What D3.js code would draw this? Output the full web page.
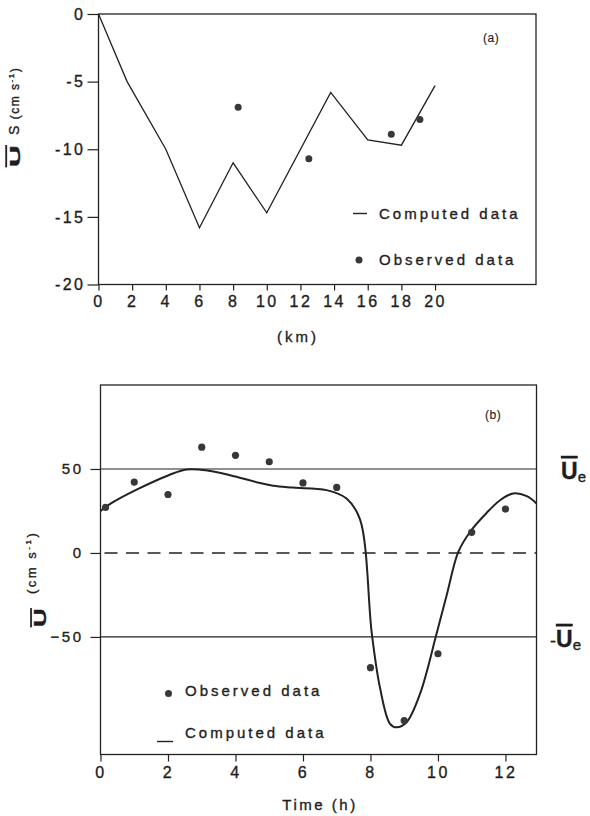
<!DOCTYPE html>
<html>
<head>
<meta charset="utf-8">
<script src="https://cdn.jsdelivr.net/npm/d3@7"></script>
<style>
  body { margin: 0; background: #fff; }
  text { font-family: "Liberation Sans", Arial, sans-serif; fill: #1e1e1e; stroke: #1e1e1e; stroke-width: 0.35px; }
</style>
</head>
<body>
<svg id="chart" width="590" height="816"></svg>
<script>
// ---- panel (a): residual current along the estuary
const distKm = [0, 1.7, 4, 6, 8, 10, 13.8, 16, 18, 20];
const computedUs = [0, -5, -10, -15.8, -11, -14.7, -5.8, -9.3, -9.7, -5.3];
const obsKm = [8.3, 12.5, 17.4, 19.1];
const observedUs = [-6.9, -10.7, -8.9, -7.8];
const kmTicks = [0, 2, 4, 6, 8, 10, 12, 14, 16, 18, 20];
const usTicks = [0, -5, -10, -15, -20];

// ---- panel (b): mean velocity over a tidal cycle
const timeH = [0, 0.31, 1.04, 2.02, 2.55, 3.2, 3.84, 4.73, 5.12, 5.71, 6.7, 7.29, 7.69, 8.04, 8.28, 8.58, 8.78, 9.07, 9.47, 9.96, 10.26, 10.6, 10.95, 11.44, 11.84, 12.23, 12.63, 12.92];
const computedU = [25, 29.5, 37.4, 46.3, 49.7, 49, 46.3, 41.6, 40, 38.9, 37.4, 32.4, 20, -48, -80, -101.7, -103.8, -100.8, -83.8, -48, -25, 0.5, 12.5, 23.8, 31.4, 35.4, 33.8, 29.5];
const obsTime = [0.15, 1, 2, 3, 4, 5, 6, 7, 8, 9, 10, 11, 12];
const observedU = [27.1, 42.2, 34.8, 63, 58.1, 54.3, 41.7, 39, -68.3, -99.8, -60, 12.3, 26.1];
const timeTicks = [0, 2, 4, 6, 8, 10, 12];
const uTicks = [50, 0, -50];
const uE = 50;

const svg = d3.select("#chart");
const ink = "#222";

function styleAxis(g, fontSize)
{
    g.select(".domain").remove();
    g.selectAll(".tick line").attr("stroke", ink).attr("stroke-width", 1.2);
    g.selectAll(".tick text")
        .attr("fill", "#1e1e1e")
        .style("font-size", fontSize + "px")
        .style("letter-spacing", "2.5px")
        .style("font-family", "'Liberation Sans', Arial, sans-serif");
}

// ================= panel (a)
let xA = d3.scaleLinear().domain([0, 26]).range([98.5, 536]);
let yA = d3.scaleLinear().domain([-20, 0]).range([284.5, 14]);

let gA = svg.append("g");

gA.append("rect")
    .attr("x", xA(0)).attr("y", yA(0))
    .attr("width", xA(26) - xA(0)).attr("height", yA(-20) - yA(0))
    .attr("fill", "none").attr("stroke", ink).attr("stroke-width", 1.3);

gA.append("g")
    .attr("transform", "translate(" + xA(0) + ",0)")
    .call(d3.axisLeft(yA).tickValues(usTicks).tickSize(11).tickPadding(2).tickFormat(d => String(d)))
    .call(g => styleAxis(g, 16));

gA.append("g")
    .attr("transform", "translate(0," + yA(-20) + ")")
    .call(d3.axisBottom(xA).tickValues(kmTicks).tickSize(6).tickPadding(5))
    .call(g => styleAxis(g, 16));

let pointsA = distKm.map((d, i) => ({ x: d, y: computedUs[i] }));
gA.append("path")
    .datum(pointsA)
    .attr("fill", "none").attr("stroke", ink).attr("stroke-width", 1.3)
    .attr("d", d3.line().x(d => xA(d.x)).y(d => yA(d.y)));

gA.selectAll("circle")
    .data(obsKm.map((d, i) => ({ x: d, y: observedUs[i] })))
    .enter().append("circle")
    .attr("r", 3.5)
    .attr("fill", "#383838")
    .attr("cx", d => xA(d.x))
    .attr("cy", d => yA(d.y));

// legend (a)
gA.append("line").attr("x1", 353).attr("x2", 367).attr("y1", 213.5).attr("y2", 213.5)
    .attr("stroke", ink).attr("stroke-width", 1.4);
gA.append("text").attr("x", 379).attr("y", 219).style("font-size", "15px").style("letter-spacing", "3px")
    .text("Computed data");
gA.append("circle").attr("cx", 359).attr("cy", 260).attr("r", 3.5).attr("fill", "#383838");
gA.append("text").attr("x", 379).attr("y", 265).style("font-size", "15px").style("letter-spacing", "3px")
    .text("Observed data");
gA.append("text").attr("x", 483).attr("y", 42).style("font-size", "12px").style("letter-spacing", "0.5px")
    .style("stroke-width", "0.15px").text("(a)");

// axis titles (a)
gA.append("text").attr("x", 298).attr("y", 342).attr("text-anchor", "middle")
    .style("font-size", "15px").style("letter-spacing", "3px").text("(km)");

gA.append("text")
    .attr("transform", "translate(20,167) rotate(-90) scale(2,1)")
    .style("font-size", "15px").style("font-weight", "bold").style("text-decoration", "overline")
    .text("U");
let labA = gA.append("text")
    .attr("transform", "translate(19,135) rotate(-90)")
    .style("font-size", "12px").style("letter-spacing", "1.5px");
labA.append("tspan").style("font-size", "14px").text("S");
labA.append("tspan").text(" (cm s");
labA.append("tspan").attr("dy", -5).style("font-size", "8px").text("-1");
labA.append("tspan").attr("dy", 5).text(")");

// ================= panel (b)
let xB = d3.scaleLinear().domain([0, 12.92]).range([100.5, 536.5]);
let yB = d3.scaleLinear().domain([-120, 100]).range([754.5, 385]);

let gB = svg.append("g");

gB.append("rect")
    .attr("x", xB(0)).attr("y", yB(100))
    .attr("width", xB(12.92) - xB(0)).attr("height", yB(-120) - yB(100))
    .attr("fill", "none").attr("stroke", ink).attr("stroke-width", 1.3);

gB.append("g")
    .attr("transform", "translate(" + xB(0) + ",0)")
    .call(d3.axisLeft(yB).tickValues(uTicks).tickSize(10).tickPadding(7))
    .call(g => styleAxis(g, 15));

gB.append("g")
    .attr("transform", "translate(0," + yB(-120) + ")")
    .call(d3.axisBottom(xB).tickValues(timeTicks).tickSize(7).tickPadding(5))
    .call(g => styleAxis(g, 16));

// +Ue / -Ue reference lines and the dashed zero line
gB.selectAll("line.ue")
    .data([uE, -uE])
    .enter().append("line")
    .attr("class", "ue")
    .attr("x1", xB(0)).attr("x2", xB(12.92))
    .attr("y1", d => yB(d)).attr("y2", d => yB(d))
    .attr("stroke", ink).attr("stroke-width", 1.2);

gB.append("line")
    .attr("x1", xB(0)).attr("x2", xB(12.92))
    .attr("y1", yB(0)).attr("y2", yB(0))
    .attr("stroke", ink).attr("stroke-width", 1.4)
    .attr("stroke-dasharray", "13,8.5").attr("stroke-dashoffset", -4);

let pointsB = timeH.map((d, i) => ({ x: d, y: computedU[i] }));
gB.append("path")
    .datum(pointsB)
    .attr("fill", "none").attr("stroke", ink).attr("stroke-width", 2)
    .attr("d", d3.line().curve(d3.curveCatmullRom.alpha(0.5)).x(d => xB(d.x)).y(d => yB(d.y)));

gB.selectAll("circle.obs")
    .data(obsTime.map((d, i) => ({ x: d, y: observedU[i] })))
    .enter().append("circle")
    .attr("class", "obs")
    .attr("r", 3.6)
    .attr("fill", "#383838")
    .attr("cx", d => xB(d.x))
    .attr("cy", d => yB(d.y));

// legend (b)
gB.append("circle").attr("cx", 168.5).attr("cy", 693.5).attr("r", 3.5).attr("fill", "#383838");
gB.append("text").attr("x", 185).attr("y", 696).style("font-size", "15px").style("letter-spacing", "3px")
    .text("Observed data");
gB.append("line").attr("x1", 157).attr("x2", 173).attr("y1", 741.5).attr("y2", 741.5)
    .attr("stroke", ink).attr("stroke-width", 1.4);
gB.append("text").attr("x", 185).attr("y", 738).style("font-size", "15px").style("letter-spacing", "3px")
    .text("Computed data");
gB.append("text").attr("x", 485).attr("y", 419).style("font-size", "12px").style("letter-spacing", "0.5px")
    .style("stroke-width", "0.15px").text("(b)");

// Ue labels on the right
let ueLab = gB.append("text").attr("x", 561).attr("y", yB(uE) + 10);
ueLab.append("tspan").style("font-size", "23px").style("font-weight", "bold").style("text-decoration", "overline").text("U");
ueLab.append("tspan").attr("dy", 3).style("font-size", "15px").text("e");

let mueLab = gB.append("text").attr("x", 550).attr("y", yB(-uE) + 10);
mueLab.append("tspan").style("font-size", "18px").text("-");
mueLab.append("tspan").style("font-size", "23px").style("font-weight", "bold").style("text-decoration", "overline").text("U");
mueLab.append("tspan").attr("dy", 3).style("font-size", "15px").text("e");

// axis titles (b)
gB.append("text").attr("x", 320).attr("y", 810).attr("text-anchor", "middle")
    .style("font-size", "15px").style("letter-spacing", "2.5px").text("Time (h)");

gB.append("text")
    .attr("transform", "translate(46,627) rotate(-90) scale(1.6,1)")
    .style("font-size", "16px").style("font-weight", "bold").style("text-decoration", "overline")
    .text("U");
let labB = gB.append("text")
    .attr("transform", "translate(36,594) rotate(-90)")
    .style("font-size", "13px").style("letter-spacing", "2.5px");
labB.append("tspan").text("(cm s");
labB.append("tspan").attr("dy", -5).style("font-size", "8px").text("-1");
labB.append("tspan").attr("dy", 5).text(")");
</script>
</body>
</html>
